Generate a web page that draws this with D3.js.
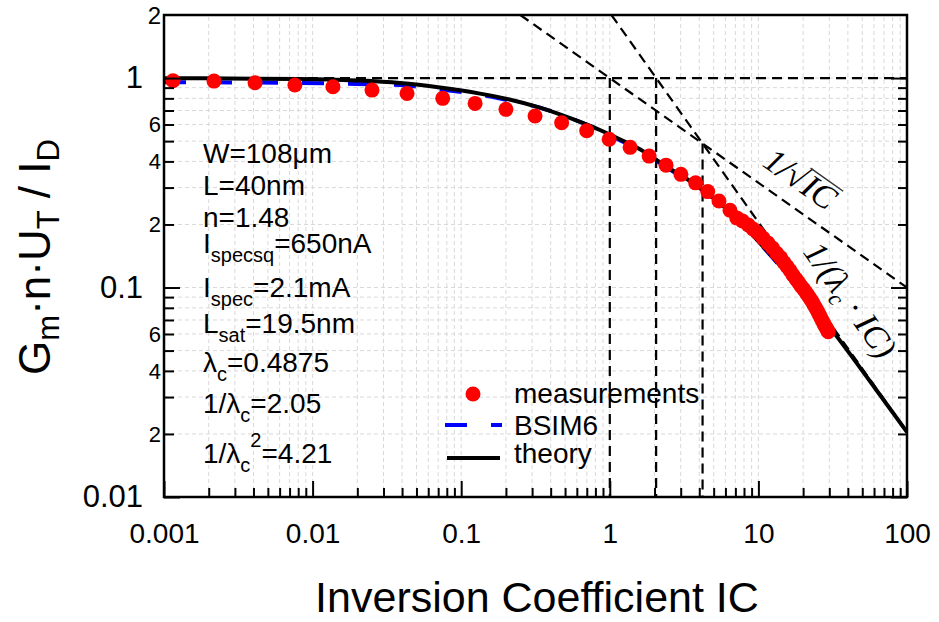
<!DOCTYPE html>
<html lang="en">
<head>
<meta charset="utf-8">
<title>Gm n UT / ID versus inversion coefficient</title>
<script src="https://cdn.jsdelivr.net/npm/d3@7"></script>
<style>
  body { margin: 0; background: #fff; }
  text { fill: #000; }
</style>
</head>
<body>
<div id="chart"></div>
<script>
// ---- data ----
var measIC = [0.00115, 0.00217, 0.0041, 0.0076, 0.0137, 0.0251, 0.0432, 0.0751, 0.124, 0.200,
              0.314, 0.474, 0.699, 0.99, 1.37, 1.84, 2.39, 3.01, 3.78, 4.56,
              5.43, 6.44, 7.15, 7.82, 8.55, 9.20, 9.94, 10.74, 11.6, 12.44,
              13.28, 14.08, 14.87, 15.58, 16.32, 17.09, 17.91, 18.62, 19.35, 20.12,
              20.91, 21.57, 22.25, 22.95, 23.67, 24.42, 25.18, 25.77, 26.38, 27.0,
              27.64, 28.2, 28.73, 29.13, 29.5];
var measG  = [0.971, 0.967, 0.950, 0.926, 0.909, 0.876, 0.845, 0.800, 0.757, 0.709,
              0.659, 0.612, 0.560, 0.510, 0.467, 0.424, 0.384, 0.347, 0.316, 0.287,
              0.259, 0.234, 0.215, 0.2077, 0.1987, 0.1902, 0.182, 0.1722, 0.163, 0.1543,
              0.1456, 0.1390, 0.1316, 0.1260, 0.1206, 0.1147, 0.1098, 0.1056, 0.1017, 0.0984,
              0.0946, 0.0916, 0.0886, 0.0857, 0.0825, 0.0794, 0.0764, 0.0739, 0.0715, 0.0692,
              0.0669, 0.0653, 0.0637, 0.0627, 0.0615];

var bsimIC = [0.001, 0.003, 0.0082, 0.0196, 0.0387, 0.072, 0.1337, 0.2111, 0.3381, 0.5647,
              0.8575, 1.0, 1.595, 2.417, 4.11, 5.515, 7.52, 10.25, 13.98, 19.05, 25.97, 29.5];
var bsimG  = [0.955, 0.953, 0.948, 0.937, 0.926, 0.881, 0.834, 0.781, 0.723, 0.637,
              0.562, 0.532, 0.453, 0.374, 0.295, 0.251, 0.2035, 0.162, 0.1263, 0.0967, 0.0736, 0.0656];

var theoryIC = [0.001, 0.00822, 0.0196, 0.0387, 0.072, 0.1337, 0.2111, 0.3381, 0.5647, 0.8575,
                1.0, 1.595, 2.417, 4.11, 5.515, 7.52, 10.25, 13.98, 19.05, 25.97,
                35.41, 56.36, 100];
var theoryG  = [0.998, 0.989, 0.973, 0.9465, 0.901, 0.843, 0.790, 0.723, 0.637, 0.565,
                0.537, 0.457, 0.377, 0.2975, 0.2523, 0.2054, 0.1631, 0.1274, 0.0978, 0.0743,
                0.0558, 0.0357, 0.0204];

// reference asymptotes / markers
var lambdaC = 0.4875;
var sqrtLineIC = [0.25, 100], sqrtLineG = [2, 0.1];
var lamLineIC = [1.026, 100], lamLineG = [2, 0.0205];
var markIC = [1, 2.05, 4.21], markTopG = [1, 1, 0.4875];

var xTickValues = [0.001, 0.01, 0.1, 1, 10, 100];
var xTickLabels = ["0.001", "0.01", "0.1", "1", "10", "100"];
var yMajorValues = [0.01, 0.1, 1];
var yMajorLabels = ["0.01", "0.1", "1"];
var yMinorValues = [0.02, 0.04, 0.06, 0.2, 0.4, 0.6, 2];
var yMinorLabels = ["2", "4", "6", "2", "4", "6", "2"];

// parameter box: [text, 0 normal / 1 subscript / 2 superscript]
var paramLines = [
  [["W=108μm", 0]],
  [["L=40nm", 0]],
  [["n=1.48", 0]],
  [["I", 0], ["specsq", 1], ["=650nA", 0]],
  [["I", 0], ["spec", 1], ["=2.1mA", 0]],
  [["L", 0], ["sat", 1], ["=19.5nm", 0]],
  [["λ", 0], ["c", 1], ["=0.4875", 0]],
  [["1/λ", 0], ["c", 1], ["=2.05", 0]],
  [["1/λ", 0], ["c", 1], ["2", 2], ["=4.21", 0]]
];
var paramBase = [163, 195, 227, 253, 297, 333, 372, 413, 463];

var legendItems = ["measurements", "BSIM6", "theory"];

var sans = "Arial, 'Liberation Sans', sans-serif";
var ser = "'Liberation Serif', 'DejaVu Serif', serif";

// ---- scales ----
var x = d3.scaleLog().domain([0.001, 100]).range([164, 907]);
var y = d3.scaleLog().domain([0.01, 2]).range([497, 15]);

var svg = d3.select("#chart").append("svg")
    .attr("width", 939).attr("height", 622)
    .style("font-family", sans);

svg.append("clipPath").attr("id", "plotclip")
  .append("rect").attr("x", 164).attr("y", 15).attr("width", 743).attr("height", 482);

// grid
var grid = svg.append("g");
grid.selectAll(".gx").data(x.ticks()).enter().append("line")
    .attr("x1", d => x(d)).attr("x2", d => x(d))
    .attr("y1", y(0.01)).attr("y2", y(2));
grid.selectAll(".gy").data(y.ticks()).enter().append("line")
    .attr("x1", x(0.001)).attr("x2", x(100))
    .attr("y1", d => y(d)).attr("y2", d => y(d));
grid.selectAll("line")
    .attr("stroke", "#d9d9d9").attr("stroke-width", 1).attr("stroke-dasharray", "4,3");

// parameter text block
function richText(sel, parts, big, small) {
  var shift = 0;
  parts.forEach(function(p) {
    var target = p[1] === 1 ? 9 : (p[1] === 2 ? -16 : 0);
    sel.append("tspan")
      .attr("dy", target - shift)
      .attr("font-size", p[1] ? small : big)
      .text(p[0]);
    shift = target;
  });
}
var params = svg.append("g");
paramLines.forEach(function(line, i) {
  var t = params.append("text").attr("x", 203).attr("y", paramBase[i]);
  richText(t, line, 28, 20);
});

// legend
var leg = svg.append("g");
leg.append("circle").attr("cx", 473).attr("cy", 394).attr("r", 7.5).attr("fill", "red");
leg.append("line").attr("x1", 445).attr("x2", 502).attr("y1", 425).attr("y2", 425)
    .attr("stroke", "blue").attr("stroke-width", 4).attr("stroke-dasharray", "22,24");
leg.append("line").attr("x1", 447).attr("x2", 500).attr("y1", 458).attr("y2", 458)
    .attr("stroke", "black").attr("stroke-width", 4);
leg.selectAll("text").data(legendItems).enter().append("text")
    .attr("x", 514).attr("y", (d, i) => [403, 435, 463][i])
    .attr("font-size", 28).text(d => d);

// reference dashed lines
var refs = svg.append("g").attr("clip-path", "url(#plotclip)")
    .attr("stroke", "black").attr("stroke-width", 2.2).attr("stroke-dasharray", "10,6").attr("fill", "none");
refs.append("line").attr("x1", x(0.001)).attr("x2", x(100)).attr("y1", y(1)).attr("y2", y(1));
refs.append("line").attr("x1", x(sqrtLineIC[0])).attr("x2", x(sqrtLineIC[1]))
    .attr("y1", y(sqrtLineG[0])).attr("y2", y(sqrtLineG[1]));
refs.append("line").attr("x1", x(lamLineIC[0])).attr("x2", x(lamLineIC[1]))
    .attr("y1", y(lamLineG[0])).attr("y2", y(lamLineG[1]));
refs.selectAll(".vm").data(markIC).enter().append("line")
    .attr("x1", d => x(d)).attr("x2", d => x(d))
    .attr("y1", (d, i) => y(markTopG[i])).attr("y2", y(0.01));

// curves
var plot = svg.append("g").attr("clip-path", "url(#plotclip)");
var line = d3.line().x(d => x(d[0])).y(d => y(d[1])).curve(d3.curveMonotoneX);
plot.append("path").datum(d3.zip(bsimIC, bsimG)).attr("d", line)
    .attr("fill", "none").attr("stroke", "blue").attr("stroke-width", 4)
    .attr("stroke-dasharray", "22,24");
plot.append("path").datum(d3.zip(theoryIC, theoryG)).attr("d", line)
    .attr("fill", "none").attr("stroke", "black").attr("stroke-width", 4);
plot.selectAll("circle").data(d3.zip(measIC, measG)).enter().append("circle")
    .attr("cx", d => x(d[0])).attr("cy", d => y(d[1])).attr("r", 7.5).attr("fill", "red");

// slanted labels
var degS = Math.atan(0.5 * (y(0.1) - y(1)) / (x(10) - x(1))) * 180 / Math.PI;
var g1 = svg.append("g")
    .attr("transform", "translate(" + x(19) + "," + (y(1 / Math.sqrt(19)) - 33) + ") rotate(" + degS + ")")
    .style("font-family", ser).style("font-style", "italic");
var t1a = g1.append("text").attr("font-size", 34).attr("fill", "#333").text("1/√");
var w1 = t1a.node().getComputedTextLength();
var t1b = g1.append("text").attr("x", w1 + 1).attr("font-size", 34).attr("fill", "#333").text("IC");
var w2 = t1b.node().getComputedTextLength();
g1.append("line").attr("x1", w1 - 3).attr("x2", w1 + w2 + 3).attr("y1", -26).attr("y2", -26)
    .attr("stroke", "#333").attr("stroke-width", 1.5);
g1.selectAll("text,line").attr("transform", "translate(" + (-(w1 + w2) / 2) + ",11)");

var degL = Math.atan((y(0.1) - y(1)) / (x(10) - x(1))) * 180 / Math.PI;
var g2 = svg.append("g")
    .attr("transform", "translate(" + x(41.3) + "," + (y(1 / (lambdaC * 41.3)) - 51) + ") rotate(" + degL + ")")
    .style("font-family", ser).style("font-style", "italic");
var t2 = g2.append("text").attr("text-anchor", "middle").attr("y", 11)
    .attr("font-size", 34).attr("fill", "#333");
t2.append("tspan").text("1/(λ");
t2.append("tspan").attr("font-size", 23).attr("dy", 7).text("c");
t2.append("tspan").attr("dy", -7).text(" · IC)");

// frame and ticks
var axes = svg.append("g");
var xMinor = x.ticks().filter(d => xTickValues.indexOf(d) < 0);
var yMinor = y.ticks().filter(d => yMajorValues.indexOf(d) < 0 && d < 2);

axes.append("g").attr("transform", "translate(0,497)")
    .call(d3.axisBottom(x).tickValues(xTickValues).tickSize(-16).tickPadding(26)
      .tickFormat((d, i) => xTickLabels[i]));
axes.append("g").attr("transform", "translate(0,497)")
    .call(d3.axisBottom(x).tickValues(xMinor).tickSize(-9).tickFormat(""));
axes.append("g").attr("transform", "translate(164,0)")
    .call(d3.axisLeft(y).tickValues(yMajorValues).tickSize(-16).tickPadding(21)
      .tickFormat((d, i) => yMajorLabels[i]));
axes.append("g").attr("transform", "translate(164,0)")
    .call(d3.axisLeft(y).tickValues(yMinor).tickSize(-10).tickFormat(""));
axes.append("g").attr("transform", "translate(907,0)")
    .call(d3.axisRight(y).tickValues(yMajorValues).tickSize(-16).tickFormat(""));
axes.append("g").attr("transform", "translate(907,0)")
    .call(d3.axisRight(y).tickValues(yMinor).tickSize(-9).tickFormat(""));
axes.selectAll(".domain").remove();
axes.selectAll(".tick line").attr("stroke", "black").attr("stroke-width", 2);
axes.selectAll(".tick text").attr("font-family", null).attr("fill", "black");
axes.selectAll("g").attr("font-family", null).attr("font-size", null);
axes.selectAll(".tick text").attr("font-size", 28);
axes.selectAll("g").filter(function() { return this.getAttribute("transform") === "translate(164,0)"; })
    .selectAll(".tick text").attr("font-size", 31);

axes.append("rect").attr("x", 164).attr("y", 15).attr("width", 743).attr("height", 482)
    .attr("fill", "none").attr("stroke", "black").attr("stroke-width", 2.5);

// minor y labels
axes.selectAll(".ymin").data(yMinorValues).enter().append("text")
    .attr("x", 161).attr("y", d => y(d)).attr("dy", "0.36em")
    .attr("text-anchor", "end").attr("font-size", d => d === 2 ? 24 : 22)
    .text((d, i) => yMinorLabels[i]);

// axis titles
var yt = svg.append("text").attr("text-anchor", "middle")
    .attr("transform", "translate(50,257) rotate(-90)").attr("font-size", 44);
yt.append("tspan").text("G");
yt.append("tspan").attr("font-size", 31).attr("dy", 9).text("m");
yt.append("tspan").attr("dy", -9).text("·n·U");
yt.append("tspan").attr("font-size", 31).attr("dy", 9).text("T");
yt.append("tspan").attr("dy", -9).text(" / I");
yt.append("tspan").attr("font-size", 31).attr("dy", 9).text("D");

svg.append("text").attr("x", 537).attr("y", 612).attr("text-anchor", "middle")
    .attr("font-size", 43).text("Inversion Coefficient IC");
</script>
</body>
</html>
